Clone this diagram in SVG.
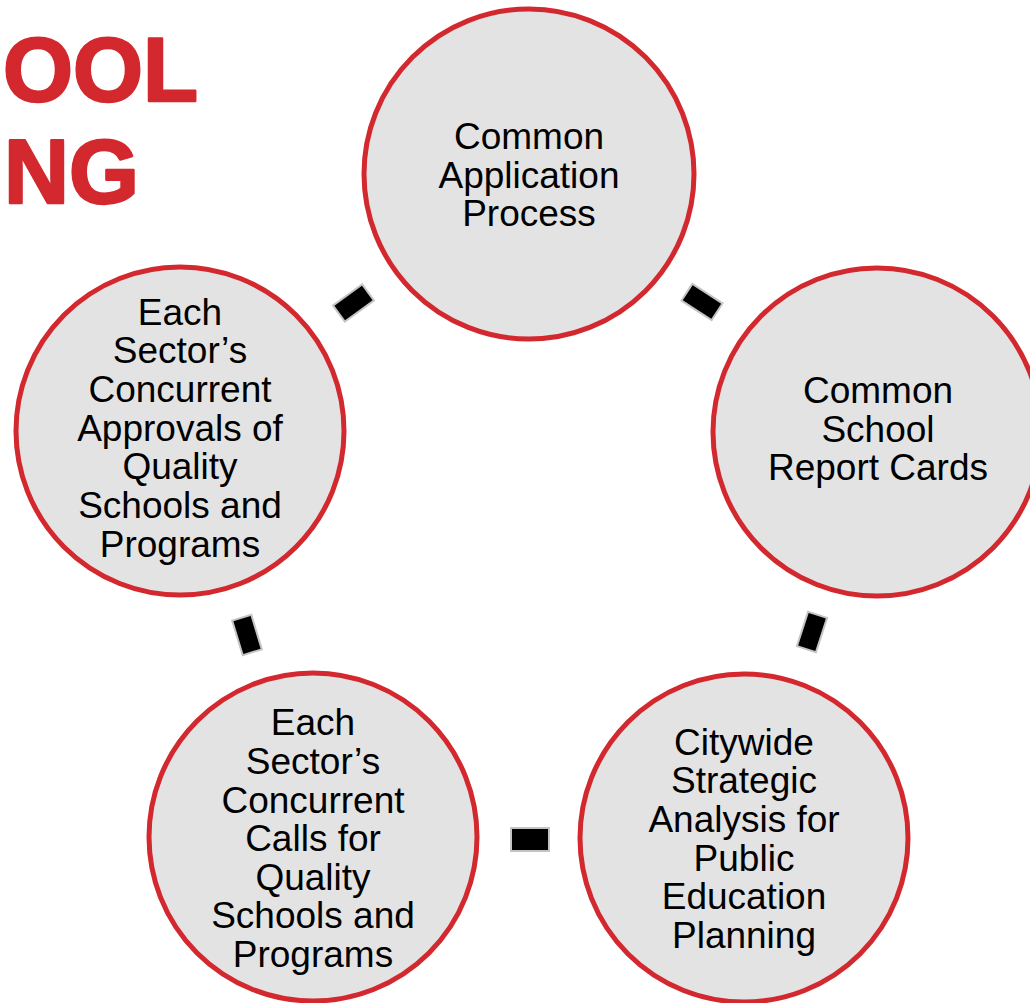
<svg xmlns="http://www.w3.org/2000/svg" width="1030" height="1003" viewBox="0 0 1030 1003">
<style>
.c{fill:#e3e3e3;stroke:#d2282e;stroke-width:5}
.t{font-family:"Liberation Sans",Arial,sans-serif;font-size:37px;fill:#000;text-anchor:middle}
.h{font-family:"Liberation Sans",Arial,sans-serif;font-size:90px;font-weight:bold;fill:#d2282e;stroke:#d2282e;stroke-width:2.5;stroke-linejoin:round}
.k{fill:#000;stroke:#c4c4c4;stroke-width:2}
</style>
<rect width="1030" height="1003" fill="#fff"/>
<text class="h" x="3" y="101">OOL</text>
<text class="h" x="4" y="203">NG</text>
<g id="connectors">
<rect class="k" x="-18" y="-10" width="36" height="20" transform="translate(353.5,303) rotate(-36)"/>
<rect class="k" x="-18" y="-10" width="36" height="20" transform="translate(702,302) rotate(33)"/>
<rect class="k" x="-10" y="-18" width="20" height="36" transform="translate(812,632) rotate(18)"/>
<rect class="k" x="-10" y="-18" width="20" height="36" transform="translate(247,635) rotate(-17)"/>
<rect class="k" x="511" y="828" width="38" height="23"/>
</g>
<g id="node-top">
<circle class="c" cx="529" cy="174" r="165"/>
<text class="t"><tspan x="529" y="149">Common</tspan><tspan x="529" y="188">Application</tspan><tspan x="529" y="226">Process</tspan></text>
</g>
<g id="node-right">
<circle class="c" cx="877" cy="432" r="164"/>
<text class="t"><tspan x="878" y="403">Common</tspan><tspan x="878" y="442">School</tspan><tspan x="878" y="480">Report Cards</tspan></text>
</g>
<g id="node-bottom-right">
<circle class="c" cx="744" cy="838" r="164"/>
<text class="t"><tspan x="744" y="755">Citywide</tspan><tspan x="744" y="793">Strategic</tspan><tspan x="744" y="832">Analysis for</tspan><tspan x="744" y="871">Public</tspan><tspan x="744" y="909">Education</tspan><tspan x="744" y="948">Planning</tspan></text>
</g>
<g id="node-bottom-left">
<circle class="c" cx="313" cy="837" r="164"/>
<text class="t"><tspan x="313" y="735">Each</tspan><tspan x="313" y="774">Sector’s</tspan><tspan x="313" y="813">Concurrent</tspan><tspan x="313" y="851">Calls for</tspan><tspan x="313" y="890">Quality</tspan><tspan x="313" y="928">Schools and</tspan><tspan x="313" y="967">Programs</tspan></text>
</g>
<g id="node-left">
<circle class="c" cx="180" cy="431" r="164"/>
<text class="t"><tspan x="180" y="325">Each</tspan><tspan x="180" y="363">Sector’s</tspan><tspan x="180" y="402">Concurrent</tspan><tspan x="180" y="441">Approvals of</tspan><tspan x="180" y="479">Quality</tspan><tspan x="180" y="518">Schools and</tspan><tspan x="180" y="557">Programs</tspan></text>
</g>
</svg>
